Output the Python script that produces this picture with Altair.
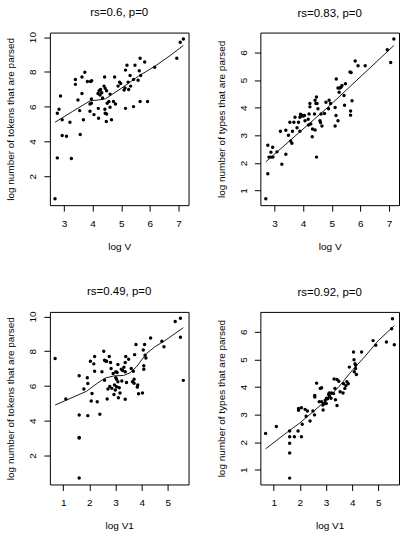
import altair as alt
import pandas as pd

FONT = "Liberation Sans"

# log V vs log number of tokens that are parsed
logv_1 = [2.69, 2.77, 2.77, 2.83, 2.88, 2.94, 2.94, 3.09, 3.21, 3.26, 3.40, 3.40, 3.49, 3.55, 3.57,
          3.63, 3.63, 3.68, 3.73, 3.82, 3.91, 3.91, 3.93, 3.96, 3.97, 3.96, 4.05, 4.20, 4.21, 4.19,
          4.23, 4.26, 4.28, 4.32, 4.35, 4.40, 4.42, 4.44, 4.43, 4.44, 4.48, 4.49, 4.49, 4.51, 4.57,
          4.61, 4.61, 4.66, 4.73, 4.77, 4.80, 4.89, 4.94, 4.98, 5.10, 5.13, 5.15, 5.15, 5.20, 5.24,
          5.26, 5.31, 5.33, 5.43, 5.43, 5.48, 5.59, 5.63, 5.66, 5.66, 5.68, 5.82, 5.92, 6.17, 6.94,
          7.06, 7.17]
tokens_1 = [0.70, 3.05, 5.62, 5.85, 6.61, 5.24, 4.34, 4.30, 5.10, 3.01, 7.56, 7.28, 6.38, 5.77, 4.40,
            7.71, 6.76, 5.24, 7.98, 7.45, 6.15, 5.73, 7.45, 6.44, 7.49, 6.19, 5.54, 5.90, 5.33, 6.76,
            6.91, 6.67, 6.99, 6.80, 6.50, 7.18, 7.71, 7.05, 5.85, 5.62, 5.14, 6.91, 5.58, 6.19, 6.29,
            6.72, 5.96, 5.24, 6.29, 7.70, 6.15, 7.18, 7.41, 7.33, 6.95, 7.07, 5.90, 8.10, 8.38, 7.41,
            6.99, 7.79, 7.18, 6.00, 7.56, 8.38, 7.52, 8.06, 8.78, 6.30, 7.79, 8.57, 6.29, 8.27, 8.78,
            9.70, 9.89]
fit_x_1 = [2.69, 3.30, 3.91, 4.20, 4.45, 5.00, 5.60, 6.20, 6.70, 7.17]
fit_y_1 = [5.10, 5.72, 6.33, 6.38, 6.45, 7.05, 7.75, 8.35, 8.93, 9.52]

# log V vs log number of types that are parsed
logv_2 = [2.70, 2.77, 2.77, 2.81, 2.88, 2.88, 2.94, 2.95, 3.09, 3.21, 3.26, 3.40, 3.40, 3.49, 3.54,
          3.57, 3.61, 3.63, 3.68, 3.72, 3.79, 3.84, 3.89, 3.89, 3.91, 3.93, 3.96, 4.00, 4.05, 4.07,
          4.18, 4.19, 4.21, 4.24, 4.24, 4.27, 4.32, 4.33, 4.40, 4.42, 4.42, 4.45, 4.47, 4.47, 4.49,
          4.52, 4.59, 4.61, 4.63, 4.66, 4.75, 4.80, 4.89, 4.91, 4.96, 5.12, 5.12, 5.15, 5.16, 5.22,
          5.22, 5.26, 5.29, 5.33, 5.36, 5.43, 5.45, 5.48, 5.64, 5.66, 5.68, 5.66, 5.71, 5.82, 5.92,
          6.17, 6.94, 7.06, 7.17]
types_2 = [0.70, 1.61, 2.64, 2.21, 2.39, 2.21, 2.57, 2.21, 2.40, 3.15, 1.95, 3.18, 2.31, 3.00, 3.47,
           2.79, 2.71, 3.15, 3.47, 3.65, 3.27, 3.47, 3.15, 3.65, 3.76, 3.70, 3.73, 3.70, 3.72, 3.53,
           3.58, 3.37, 3.77, 4.15, 4.03, 3.41, 2.95, 3.23, 3.77, 3.19, 4.27, 4.15, 4.39, 2.21, 4.15,
           3.96, 3.53, 3.46, 3.77, 3.34, 3.79, 4.20, 3.96, 4.27, 4.15, 4.01, 3.34, 3.72, 5.04, 3.53,
           4.71, 4.56, 4.71, 4.75, 4.80, 4.44, 4.09, 4.87, 5.29, 3.73, 5.27, 3.88, 4.25, 5.69, 5.52,
           5.52, 6.10, 5.64, 6.49]
fit_x_2 = [2.70, 4.85, 7.17]
fit_y_2 = [2.04, 4.00, 6.25]

# log V1 vs log number of tokens that are parsed
logv1_3 = [0.69, 1.10, 1.61, 1.61, 1.61, 1.61, 1.61, 1.79, 1.92, 1.94, 1.94, 2.04, 2.07, 2.10, 2.17,
           2.20, 2.20, 2.30, 2.40, 2.48, 2.55, 2.58, 2.63, 2.58, 2.66, 2.68, 2.71, 2.76, 2.78, 2.81,
           2.83, 2.86, 2.91, 2.94, 2.96, 2.99, 3.01, 3.01, 3.04, 3.04, 3.06, 3.09, 3.09, 3.11, 3.14,
           3.17, 3.22, 3.24, 3.27, 3.32, 3.37, 3.37, 3.37, 3.39, 3.42, 3.50, 3.60, 3.65, 3.68, 3.71,
           3.71, 3.73, 3.78, 3.83, 3.85, 3.88, 4.03, 4.06, 4.08, 4.08, 4.11, 4.13, 4.16, 4.34, 4.77,
           4.85, 5.28, 5.48, 5.48, 5.59]
tokens_3 = [7.58, 5.25, 6.58, 4.33, 3.03, 3.00, 0.70, 5.82, 6.47, 6.14, 4.29, 7.42, 5.13, 5.57, 7.27,
            6.85, 7.69, 5.09, 4.37, 6.81, 7.99, 7.48, 7.42, 6.33, 7.42, 5.25, 5.82, 7.69, 5.97, 7.35,
            7.00, 5.86, 6.72, 5.51, 6.05, 5.76, 6.81, 6.47, 5.95, 6.39, 6.77, 7.23, 6.24, 5.32, 5.90,
            5.59, 6.96, 6.28, 6.89, 7.08, 7.35, 6.81, 5.23, 7.69, 6.20, 7.54, 7.00, 6.24, 6.85, 6.39,
            6.16, 7.80, 8.38, 5.93, 6.05, 5.55, 5.59, 8.07, 7.16, 6.96, 8.38, 7.77, 7.61, 8.76, 8.57,
            8.26, 9.71, 9.90, 8.80, 6.32]
fit_x_3 = [0.69, 1.30, 1.90, 2.30, 2.60, 2.95, 3.30, 3.55, 3.80, 4.18, 4.50, 4.90, 5.59]
fit_y_3 = [4.90, 5.30, 5.70, 6.15, 6.45, 6.58, 6.60, 6.75, 7.10, 7.86, 8.25, 8.62, 9.35]

# log V1 vs log number of types that are parsed
logv1_4 = [0.69, 1.10, 1.61, 1.61, 1.61, 1.61, 1.61, 1.79, 1.93, 1.95, 1.95, 2.06, 2.06, 2.09, 2.20,
           2.24, 2.29, 2.39, 2.50, 2.56, 2.64, 2.57, 2.57, 2.74, 2.78, 2.83, 2.88, 2.89, 2.83, 2.93,
           2.97, 3.01, 3.02, 3.06, 3.10, 3.12, 3.13, 3.19, 3.21, 3.29, 3.34, 3.36, 3.31, 3.42, 3.42,
           3.49, 3.54, 3.65, 3.72, 3.67, 3.76, 3.85, 3.80, 3.89, 4.05, 4.07, 4.08, 4.11, 4.13, 4.16,
           4.13, 4.36, 4.80, 4.90, 5.31, 5.51, 5.54, 5.61]
types_4 = [2.32, 2.57, 2.41, 2.20, 1.96, 1.61, 0.70, 2.20, 2.41, 3.16, 3.22, 3.25, 2.20, 2.65, 3.19,
           2.94, 3.13, 2.77, 3.13, 2.99, 4.14, 3.69, 3.64, 3.47, 3.95, 3.97, 3.35, 3.17, 3.47, 3.40,
           3.52, 3.40, 3.59, 3.57, 3.73, 3.78, 3.66, 3.59, 3.78, 3.76, 3.95, 3.54, 4.29, 3.33, 4.27,
           4.21, 3.83, 3.78, 3.95, 4.12, 4.05, 4.12, 4.19, 4.72, 5.27, 4.99, 4.55, 4.84, 4.67, 4.45,
           4.79, 5.27, 5.68, 5.51, 5.63, 6.11, 6.47, 5.53]
fit_x_4 = [0.69, 1.50, 2.00, 2.50, 3.00, 3.50, 4.00, 4.50, 5.00, 5.61]
fit_y_4 = [1.76, 2.35, 2.70, 3.10, 3.52, 4.02, 4.60, 5.12, 5.68, 6.22]

titles = ["rs=0.6, p=0", "rs=0.83, p=0", "rs=0.49, p=0", "rs=0.92, p=0"]

W, H = 139, 173


def panel(px, py, fx, fy, xdom, ydom, xticks, yticks, xtitle, ytitle, title):
    pts = pd.DataFrame({"x": px, "y": py})
    fit = pd.DataFrame({"x": fx, "y": fy})
    xscale = alt.Scale(domain=xdom, nice=False, zero=False)
    yscale = alt.Scale(domain=ydom, nice=False, zero=False)
    common = dict(grid=False, domain=False, ticks=True, tickSize=6, tickWidth=1,
                  tickColor="black", labelFont=FONT, labelFontSize=10, labelColor="black",
                  titleFont=FONT, titleFontSize=10, titleFontWeight="normal",
                  titleColor="black", labelOverlap=False, labelFlush=False, format="d")
    xaxis = alt.Axis(values=xticks, title=xtitle, labelBaseline="top", labelPadding=7,
                     titleY=41, titleBaseline="middle", titleAlign="center", **common)
    yaxis = alt.Axis(values=yticks, title=ytitle, labelAngle=270, labelAlign="center",
                     labelBaseline="alphabetic", labelPadding=8,
                     titleAngle=270, titleX=-39, titleY=H / 2, titleBaseline="middle",
                     titleAlign="center", **common)
    xenc = alt.X("x:Q", scale=xscale, axis=xaxis)
    yenc = alt.Y("y:Q", scale=yscale, axis=yaxis)
    dots = alt.Chart(pts).mark_circle(size=12, color="black", opacity=1).encode(x=xenc, y=yenc)
    curve = alt.Chart(fit).mark_line(color="black", strokeWidth=0.9).encode(x=xenc, y=yenc)
    return alt.layer(dots, curve).properties(
        width=W, height=H,
        title=alt.TitleParams(text=title, font=FONT, fontSize=11.5, fontWeight="normal",
                              color="black", anchor="middle", frame="group",
                              baseline="alphabetic", offset=4),
    )


p1 = panel(logv_1, tokens_1, fit_x_1, fit_y_1, [2.51, 7.35], [0.33, 10.26],
           [3, 4, 5, 6, 7], [2, 4, 6, 8, 10], "log V",
           "log number of tokens that are parsed", titles[0])
p2 = panel(logv_2, types_2, fit_x_2, fit_y_2, [2.51, 7.35], [0.47, 6.72],
           [3, 4, 5, 6, 7], [1, 2, 3, 4, 5, 6], "log V",
           "log number of types that are parsed", titles[1])
p3 = panel(logv1_3, tokens_3, fit_x_3, fit_y_3, [0.49, 5.79], [0.33, 10.26],
           [1, 2, 3, 4, 5], [2, 4, 6, 8, 10], "log V1",
           "log number of tokens that are parsed", titles[2])
p4 = panel(logv1_4, types_4, fit_x_4, fit_y_4, [0.49, 5.79], [0.47, 6.72],
           [1, 2, 3, 4, 5], [1, 2, 3, 4, 5, 6], "log V1",
           "log number of types that are parsed", titles[3])

chart = alt.concat(
    p1, p2, p3, p4, columns=2, spacing={"row": 107, "column": 72}, bounds="flush"
).configure_view(
    stroke="black", strokeWidth=1
).properties(
    background="white", padding={"left": 5, "top": 5, "right": 5, "bottom": 5}
)

chart.save("out.html", embed_options={"renderer": "svg", "actions": False})
